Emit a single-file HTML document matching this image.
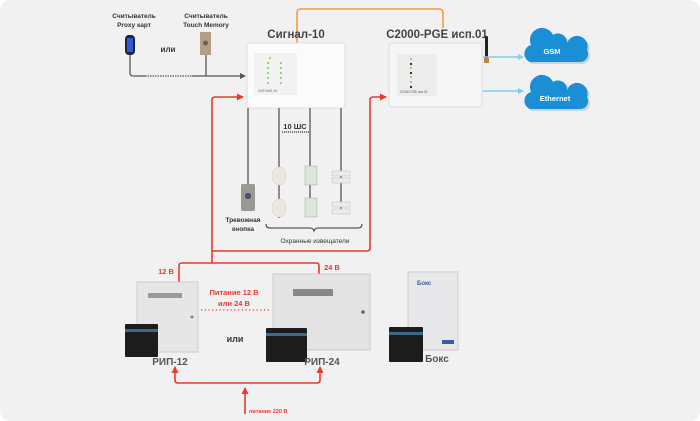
<!DOCTYPE html><html><head><meta charset="utf-8"><style>
html,body{margin:0;padding:0;background:#fff}
svg{display:block;font-family:"Liberation Sans",sans-serif}
</style></head><body>
<svg width="700" height="421" viewBox="0 0 700 421" xmlns="http://www.w3.org/2000/svg">
<defs>
<marker id="ag" markerWidth="6" markerHeight="6" refX="5" refY="3" orient="auto" markerUnits="userSpaceOnUse"><path d="M0,0 L6,3 L0,6z" fill="#555"/></marker>
<marker id="ar" markerWidth="7" markerHeight="7" refX="6" refY="3.5" orient="auto" markerUnits="userSpaceOnUse"><path d="M0,0 L7,3.5 L0,7z" fill="#e8392e"/></marker>
<marker id="ab" markerWidth="6" markerHeight="6" refX="5" refY="3" orient="auto" markerUnits="userSpaceOnUse"><path d="M0,0 L6,3 L0,6z" fill="#7fcdf0"/></marker>
</defs>
<rect x="0" y="0" width="700" height="421" rx="10" fill="#f1f1f1"/>
<path d="M297,43 V13 Q297,9 301,9 H439 Q443,9 443,13 V28" fill="none" stroke="#f39a3c" stroke-width="1.6"/>
<g font-size="6.5" fill="#333" text-anchor="middle" font-weight="bold">
<text x="134" y="18">Считыватель</text><text x="134" y="27">Proxy карт</text>
<text x="206" y="18">Считыватель</text><text x="206" y="27">Touch Memory</text>
</g>
<text x="168" y="52" text-anchor="middle" font-size="8" fill="#333" font-weight="bold">или</text>
<rect x="125" y="35" width="10" height="20" rx="4" fill="#1a2540"/><rect x="127" y="38" width="6" height="14" fill="#2f5bd8"/>
<rect x="200" y="32" width="11" height="23" fill="#b39f88"/><circle cx="205.5" cy="43" r="2.5" fill="#6a5f50"/>
<path d="M130,55 V73 Q130,76 133,76 H145" fill="none" stroke="#555" stroke-width="1.3"/>
<path d="M145,76 H192" stroke="#555" stroke-width="1.3" stroke-dasharray="1.5,1"/>
<path d="M192,76 H245" stroke="#555" stroke-width="1.3" marker-end="url(#ag)"/>
<path d="M206,55 V76" stroke="#555" stroke-width="1.3"/>
<text x="296" y="38" text-anchor="middle" font-size="11.5" fill="#444" font-weight="bold">Сигнал-10</text>
<rect x="247" y="43" width="98" height="65" rx="3" fill="#fbfbfb" stroke="#ddd"/>
<rect x="254" y="53" width="43" height="42" rx="2" fill="#f2f2f2"/>
<g fill="#7cd24a"><circle cx="270" cy="58" r="1"/><circle cx="268" cy="63" r="1"/><circle cx="268" cy="68" r="1"/><circle cx="268" cy="73" r="1"/><circle cx="268" cy="78" r="1"/><circle cx="268" cy="83" r="1"/><circle cx="281" cy="63" r="1"/><circle cx="281" cy="68" r="1"/><circle cx="281" cy="73" r="1"/><circle cx="281" cy="78" r="1"/><circle cx="281" cy="83" r="1"/></g>
<text x="258" y="92" font-size="3.5" fill="#666">СИГНАЛ-10</text>
<text x="437" y="38" text-anchor="middle" font-size="11.5" fill="#444" font-weight="bold">С2000-PGE исп.01</text>
<rect x="389" y="43" width="93" height="64" rx="3" fill="#f6f6f6" stroke="#ddd"/>
<rect x="397" y="54" width="40" height="42" rx="2" fill="#ececec"/>
<g fill="#7cd24a"><circle cx="411" cy="59" r="1"/><circle cx="411" cy="68" r="1"/><circle cx="411" cy="77" r="1"/><circle cx="411" cy="82" r="1"/></g>
<g fill="#222"><circle cx="411" cy="64" r="1.1"/><circle cx="411" cy="73" r="1.1"/><circle cx="411" cy="87" r="1.1"/></g>
<text x="400" y="93" font-size="3.2" fill="#555">С2000-PGE исп.01</text>
<rect x="485" y="36" width="3" height="25" rx="1.5" fill="#222"/><rect x="484" y="58" width="5" height="5" fill="#b8893a"/>
<path d="M483,57 H523" stroke="#7fcdf0" stroke-width="1.5" marker-end="url(#ab)"/>
<path d="M483,91 H523" stroke="#7fcdf0" stroke-width="1.5" marker-end="url(#ab)"/>
<g fill="#c9d5de"><path d="M532,64 a9,9 0 0 1 1,-17 a12,12 0 0 1 22,-10 a9,9 0 0 1 14,8 a8,8 0 0 1 20,7 a8,8 0 0 1 -6,12z"/><path d="M532,111 a9,9 0 0 1 1,-17 a12,12 0 0 1 22,-10 a9,9 0 0 1 14,8 a8,8 0 0 1 20,7 a8,8 0 0 1 -6,12z"/></g>
<g fill="#1a8fd6"><path d="M530,62 a9,9 0 0 1 1,-17 a12,12 0 0 1 22,-10 a9,9 0 0 1 14,8 a8,8 0 0 1 20,7 a8,8 0 0 1 -6,12z"/><path d="M530,109 a9,9 0 0 1 1,-17 a12,12 0 0 1 22,-10 a9,9 0 0 1 14,8 a8,8 0 0 1 20,7 a8,8 0 0 1 -6,12z"/></g>
<text x="552" y="54" text-anchor="middle" font-size="7.5" fill="#fff" font-weight="bold">GSM</text>
<text x="555" y="101" text-anchor="middle" font-size="7.5" fill="#fff" font-weight="bold">Ethernet</text>
<g stroke="#555" stroke-width="1.3" fill="none">
<path d="M248,108 V185"/><path d="M279,108 V218"/><path d="M310,108 V217"/><path d="M341,108 V213"/>
</g>
<text x="295" y="129" text-anchor="middle" font-size="7.5" fill="#333" font-weight="bold">10 ШС</text>
<path d="M282,132 H309" stroke="#444" stroke-width="1.2" stroke-dasharray="1.2,0.8"/>
<rect x="241" y="184" width="14" height="27" rx="1.5" fill="#9a9a95"/><circle cx="248" cy="196" r="3" fill="#2a4b8c"/><circle cx="248" cy="196" r="1.2" fill="#c33"/>
<g fill="#ece8dd" stroke="#ccc" stroke-width=".5"><ellipse cx="279" cy="176" rx="7" ry="9"/><ellipse cx="279" cy="208" rx="7" ry="9"/></g>
<g fill="#d8e8d8" stroke="#aaa" stroke-width=".5"><rect x="305" y="166" width="12" height="19"/><rect x="305" y="198" width="12" height="19"/></g>
<g fill="#ebebea" stroke="#bbb" stroke-width=".5"><rect x="332" y="171" width="18" height="5"/><rect x="332" y="178" width="18" height="5"/><rect x="332" y="202" width="18" height="5"/><rect x="332" y="209" width="18" height="5"/></g>
<g font-size="6.5" fill="#333" text-anchor="middle" font-weight="bold"><text x="243" y="222">Тревожная</text><text x="243" y="231">кнопка</text></g>
<path d="M266,224 Q266,228 270,228 H310 Q313,228 314,231 Q315,228 318,228 H358 Q362,228 362,224" fill="none" stroke="#333" stroke-width="1"/>
<text x="315" y="243" text-anchor="middle" font-size="6.5" fill="#333">Охранные извещатели</text>
<g stroke="#e8392e" stroke-width="1.6" fill="none">
<path d="M212,263 V100 Q212,97 215,97 H243" marker-end="url(#ar)"/>
<path d="M212,251 H367 Q370,251 370,248 V100 Q370,97 373,97 H386" marker-end="url(#ar)"/>
<path d="M179,283 V266 Q179,263 182,263 H316 Q319,263 319,266 V274"/>
<path d="M245,414 V388" marker-end="url(#ar)"/>
</g>
<path d="M175,380 Q175,383 178,383 H317 Q320,383 320,380 V367" fill="none" stroke="#e8392e" stroke-width="1.6" marker-end="url(#ar)"/>
<path d="M175,381 V367" fill="none" stroke="#e8392e" stroke-width="1.6" marker-end="url(#ar)"/>
<text x="249" y="413" font-size="5.5" fill="#e8392e" font-weight="bold">питание 220 В</text>
<g font-size="7.5" fill="#e8392e" font-weight="bold"><text x="166" y="274" text-anchor="middle">12 В</text><text x="332" y="270" text-anchor="middle">24 В</text>
<text x="234" y="295" text-anchor="middle">Питание 12 В</text><text x="234" y="306" text-anchor="middle">или 24 В</text></g>
<path d="M201,310 H271" stroke="#e8392e" stroke-width="1.2" stroke-dasharray="1.2,2.5"/>
<rect x="137" y="282" width="61" height="70" fill="#e6e6e6" stroke="#ccc"/>
<rect x="148" y="293" width="34" height="5" fill="#999"/>
<circle cx="192" cy="317" r="1.5" fill="#888"/>
<rect x="125" y="324" width="33" height="33" rx="1" fill="#1c1c1c"/><rect x="125" y="329" width="33" height="3" fill="#3a6a8a"/>
<text x="170" y="365" text-anchor="middle" font-size="10" fill="#555" font-weight="bold">РИП-12</text>
<rect x="273" y="274" width="97" height="76" fill="#e3e3e3" stroke="#ccc"/>
<rect x="293" y="289" width="40" height="7" fill="#888"/>
<circle cx="363" cy="312" r="1.8" fill="#666"/>
<rect x="266" y="328" width="41" height="34" rx="1" fill="#1c1c1c"/><rect x="266" y="333" width="41" height="3" fill="#3a6a8a"/>
<text x="322" y="365" text-anchor="middle" font-size="10" fill="#555" font-weight="bold">РИП-24</text>
<text x="235" y="342" text-anchor="middle" font-size="9" fill="#333" font-weight="bold">или</text>
<rect x="408" y="272" width="50" height="78" fill="#e8e8ea" stroke="#ccc"/>
<text x="417" y="285" font-size="6" fill="#3a5fa0" font-weight="bold">Бокс</text>
<rect x="442" y="340" width="12" height="4" fill="#3a5fa0"/>
<rect x="389" y="327" width="34" height="35" rx="1" fill="#1c1c1c"/><rect x="389" y="332" width="34" height="3" fill="#3a6a8a"/>
<text x="437" y="362" text-anchor="middle" font-size="10" fill="#555" font-weight="bold">Бокс</text>
</svg>
</body></html>
